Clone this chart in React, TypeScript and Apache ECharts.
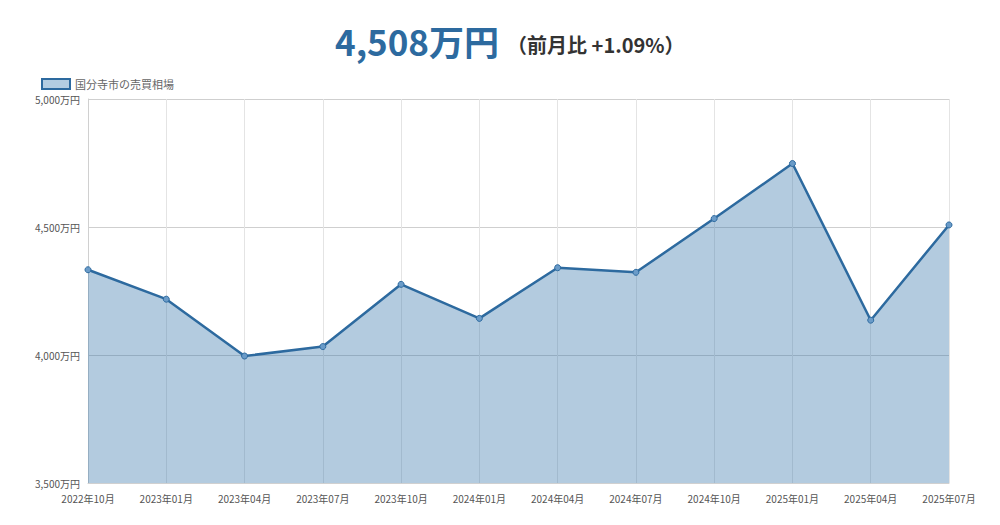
import React, { useEffect, useRef } from "react";
import * as echarts from "echarts";

const categories = [
  "2022年10月", "2023年01月", "2023年04月", "2023年07月", "2023年10月", "2024年01月",
  "2024年04月", "2024年07月", "2024年10月", "2025年01月", "2025年04月", "2025年07月",
];
const prices = [4333, 4218, 3996, 4033, 4276, 4143, 4341, 4323, 4533, 4748, 4136, 4508];
const seriesName = "国分寺市の売買相場";
const headline = "4,508万円";
const change = "（前月比 +1.09%）";

const FONT = '"Noto Sans CJK JP", "Noto Sans", sans-serif';

export default function App() {
  const ref = useRef<HTMLDivElement>(null);
  useEffect(() => {
    if (!ref.current) return;
    const chart = echarts.init(ref.current, null, { renderer: "svg" });
    chart.setOption({
      animation: false,
      textStyle: { fontFamily: FONT },
      title: {
        left: 330,
        top: 18,
        text: `{a|${headline}} {b|${change}}`,
        textStyle: {
          rich: {
            a: { fontSize: 35, fontWeight: "bold", color: "#2d6a9f", fontFamily: FONT },
            b: { fontSize: 20, fontWeight: "bold", color: "#333", fontFamily: FONT, padding: [8, 0, 0, 4] },
          },
        },
      },
      legend: {
        left: 36,
        top: 73,
        itemWidth: 28,
        itemHeight: 10,
        itemGap: 6,
        icon: "rect",
        textStyle: { color: "#666", fontSize: 11, fontFamily: FONT },
        data: [
          {
            name: seriesName,
            itemStyle: { color: "#b3cde2", borderColor: "#2d6a9f", borderWidth: 2 },
          },
        ],
      },
      grid: { left: 88, right: 51, top: 99, bottom: 42 },
      xAxis: {
        type: "category",
        data: categories,
        boundaryGap: false,
        axisLine: { show: true, lineStyle: { color: "#d0d0d0" } },
        axisTick: { show: false },
        axisLabel: { color: "#555", fontSize: 10, margin: 10, interval: 0, fontFamily: FONT },
        splitLine: { show: true, lineStyle: { color: "#e4e4e4" } },
      },
      yAxis: {
        type: "value",
        min: 3500,
        max: 5000,
        interval: 500,
        axisLine: { show: true, lineStyle: { color: "#d0d0d0" } },
        axisTick: { show: false },
        axisLabel: {
          color: "#555",
          fontSize: 10,
          margin: 8,
          fontFamily: FONT,
          formatter: (v: number) => v.toLocaleString("en-US") + "万円",
        },
        splitLine: { show: true, lineStyle: { color: "#cfcfcf" } },
      },
      series: [
        {
          name: seriesName,
          type: "line",
          data: prices,
          symbol: "circle",
          symbolSize: 6,
          itemStyle: { color: "#6a9bc8", borderColor: "#2d6a9f", borderWidth: 1 },
          lineStyle: { color: "#2d6a9f", width: 2.5 },
          areaStyle: { color: "rgba(54,118,172,0.38)", opacity: 1, origin: "start" },
        },
      ],
    });
    return () => chart.dispose();
  }, []);
  return (
    <div
      ref={ref}
      style={{ position: "fixed", left: 0, top: 0, width: 1000, height: 525, background: "#fff" }}
    />
  );
}
